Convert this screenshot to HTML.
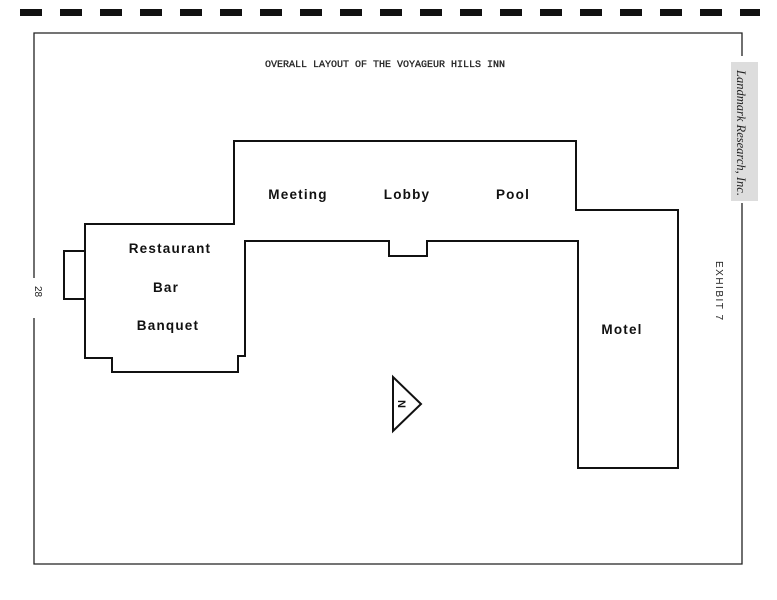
<!DOCTYPE html>
<html><head><meta charset="utf-8"><style>
html,body{margin:0;padding:0;background:#fff;}
svg{display:block;}
.l{font-family:"Liberation Sans",sans-serif;font-weight:bold;font-size:13.5px;letter-spacing:1.2px;fill:#111;}
</style></head><body>
<svg width="777" height="600" viewBox="0 0 777 600" xmlns="http://www.w3.org/2000/svg">
<rect width="777" height="600" fill="#fff"/>
<g fill="#111">
<rect x="20" y="9" width="22" height="7"/><rect x="60" y="9" width="22" height="7"/><rect x="100" y="9" width="22" height="7"/><rect x="140" y="9" width="22" height="7"/><rect x="180" y="9" width="22" height="7"/><rect x="220" y="9" width="22" height="7"/><rect x="260" y="9" width="22" height="7"/><rect x="300" y="9" width="22" height="7"/><rect x="340" y="9" width="22" height="7"/><rect x="380" y="9" width="22" height="7"/><rect x="420" y="9" width="22" height="7"/><rect x="460" y="9" width="22" height="7"/><rect x="500" y="9" width="22" height="7"/><rect x="540" y="9" width="22" height="7"/><rect x="580" y="9" width="22" height="7"/><rect x="620" y="9" width="22" height="7"/><rect x="660" y="9" width="22" height="7"/><rect x="700" y="9" width="22" height="7"/><rect x="740" y="9" width="20" height="7"/>
</g>
<g stroke="#222" stroke-width="1.3" fill="none">
<path d="M34 278 L34 33 L742 33 L742 56"/>
<path d="M742 203 L742 564 L34 564 L34 318"/>
</g>
<rect x="731" y="62" width="27" height="139" fill="#ddd"/>
<text transform="translate(737,70) rotate(90)" font-family="Liberation Serif,serif" font-style="italic" font-size="12.5" fill="#222" textLength="126" lengthAdjust="spacingAndGlyphs">Landmark Research, Inc.</text>
<text transform="translate(716,261) rotate(90)" font-family="Liberation Sans,sans-serif" font-size="10" letter-spacing="1.5" fill="#222">EXHIBIT 7</text>
<text transform="translate(35,286) rotate(90)" font-family="Liberation Sans,sans-serif" font-size="10" fill="#222">28</text>
<text x="385" y="67" text-anchor="middle" font-family="Liberation Mono,monospace" font-size="10" fill="#222" stroke="#222" stroke-width="0.3">OVERALL LAYOUT OF THE VOYAGEUR HILLS INN</text>
<g stroke="#111" stroke-width="2" fill="none" stroke-linejoin="miter">
<path d="M85 224 L234 224 L234 141 L576 141 L576 210 L678 210 L678 468 L578 468 L578 241 L427 241 L427 256 L389 256 L389 241 L245 241 L245 356 L238 356 L238 372 L112 372 L112 358 L85 358 Z"/>
<path d="M85 251 L64 251 L64 299 L85 299"/>
<path d="M393 377 L421 404 L393 431 Z"/>
</g>
<text transform="translate(398,404) rotate(90)" text-anchor="middle" font-family="Liberation Sans,sans-serif" font-weight="bold" font-size="11" fill="#111">N</text>
<text class="l" x="170" y="253" text-anchor="middle">Restaurant</text>
<text class="l" x="166" y="292" text-anchor="middle">Bar</text>
<text class="l" x="168" y="330" text-anchor="middle">Banquet</text>
<text class="l" x="298" y="199" text-anchor="middle">Meeting</text>
<text class="l" x="407" y="199" text-anchor="middle">Lobby</text>
<text class="l" x="513" y="199" text-anchor="middle">Pool</text>
<text class="l" x="622" y="334" text-anchor="middle">Motel</text>
</svg>
</body></html>
